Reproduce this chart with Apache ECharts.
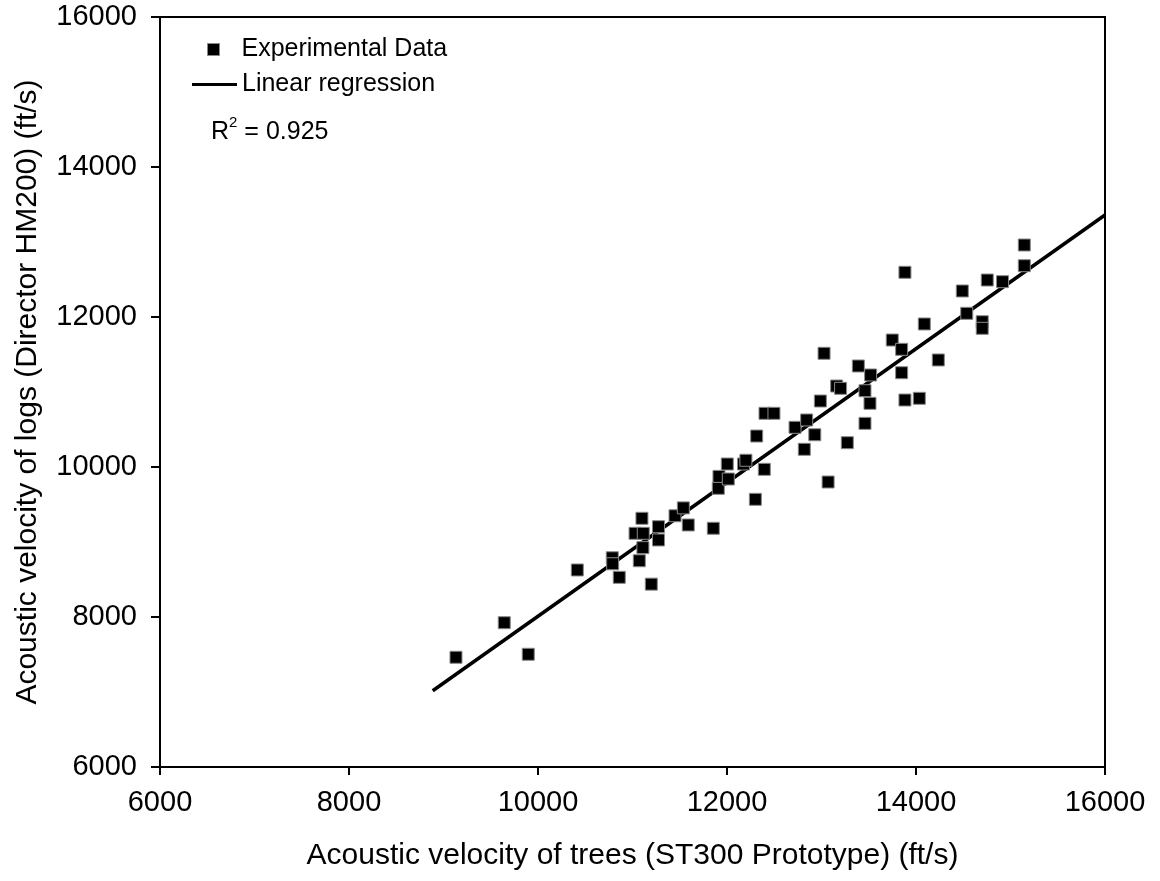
<!DOCTYPE html>
<html>
<head>
<meta charset="utf-8">
<script src="https://cdn.jsdelivr.net/npm/echarts@6/dist/echarts.min.js"></script>
<style>
  html, body { margin: 0; padding: 0; background: #fff; }
  #myChart { width: 1160px; height: 881px; }
</style>
</head>
<body>
<div id="myChart"></div>
<script>
// acoustic velocity of trees (x) vs logs (y), ft/s
const treeVel = [
  9132, 9643, 9897, 10416, 10786, 10790, 10860, 11072, 11110, 11199,
  11275, 11275, 11100, 11027, 11114, 11450, 11538, 11590, 11855, 11908,
  11915, 12003, 12014, 12175, 12200, 12395, 12300, 12314, 12402, 12497,
  12720, 12843, 12818, 12929, 12988, 13027, 13070, 13160, 13202, 13273,
  13390, 13460, 13513, 13460, 13520, 13749, 13848, 13848, 13883, 14035,
  14088, 14236, 13883, 14490, 14537, 14701, 14701, 14754, 14916, 15146,
  15146
]
const logVel = [
  7463, 7924, 7503, 8627, 8790, 8710, 8529, 8750, 8925, 8438,
  9027, 9204, 9316, 9116, 9116, 9350, 9455, 9227, 9183, 9716,
  9875, 10040, 9840, 10040, 10090, 9969, 9569, 10413, 10716, 10716,
  10529, 10627, 10236, 10430, 10880, 11516, 9800, 11080, 11049, 10324,
  11347, 11017, 10849, 10582, 11227, 11693, 11569, 11257, 10893, 10916,
  11907, 11427, 12596, 12347, 12049, 11937, 11849, 12493, 12471, 12960,
  12684
]
// fitted line end points
const regX = [8886, 16000]
const regY = [7017, 13360]
const xTicks = [6000, 8000, 10000, 12000, 14000, 16000]
const yTicks = [6000, 8000, 10000, 12000, 14000, 16000]

const font = 'Liberation Sans, Arial, sans-serif'
let myChart = echarts.init(document.getElementById('myChart'))

let pts = treeVel.map((x, i) => [x, logVel[i]])
let line = regX.map((x, i) => [x, regY[i]])

myChart.setOption({
  animation: false,
  backgroundColor: '#fff',
  textStyle: { fontFamily: font, color: '#000' },
  grid: {
    left: 160, right: 55, top: 17, bottom: 114,
    show: true, borderColor: '#000', borderWidth: 2
  },
  title: {
    left: 211, top: 115, padding: 0,
    text: '{a|R}{b|2}{a| = 0.925}',
    textStyle: {
      fontWeight: 'normal',
      rich: {
        a: { fontSize: 25, fontFamily: font, color: '#000', lineHeight: 34 },
        b: { fontSize: 15, fontFamily: font, color: '#000', verticalAlign: 'top', lineHeight: 10 }
      }
    }
  },
  legend: [
    {
      left: 207, top: 37, padding: 0, orient: 'vertical',
      itemWidth: 12, itemHeight: 12,
      data: [{ name: 'Experimental Data', icon: 'rect', itemStyle: { borderColor: '#888', borderWidth: 1 } }],
      textStyle: { fontSize: 25, fontFamily: font, color: '#000', padding: [0, 0, 0, 17] }
    },
    {
      left: 192, top: 72, padding: 0, orient: 'vertical',
      itemWidth: 45, itemHeight: 3,
      data: [{ name: 'Linear regression', icon: 'rect' }],
      textStyle: { fontSize: 25, fontFamily: font, color: '#000' }
    }
  ],
  xAxis: {
    type: 'value',
    min: xTicks[0], max: xTicks[xTicks.length - 1], interval: 2000,
    name: 'Acoustic velocity of trees (ST300 Prototype) (ft/s)',
    nameLocation: 'middle', nameGap: 89,
    nameTextStyle: { fontSize: 30, fontFamily: font, color: '#000', verticalAlign: 'middle' },
    axisLine: { onZero: false, lineStyle: { color: '#000', width: 2 } },
    axisTick: { show: true, inside: false, length: 8, lineStyle: { color: '#000', width: 2 } },
    axisLabel: {
      fontSize: 29, fontFamily: font, color: '#000', margin: 21,
      showMaxLabel: true, formatter: v => String(v)
    },
    splitLine: { show: false }
  },
  yAxis: {
    type: 'value',
    min: yTicks[0], max: yTicks[yTicks.length - 1], interval: 2000,
    name: 'Acoustic velocity of logs (Director HM200) (ft/s)',
    nameLocation: 'middle', nameGap: 132, nameRotate: 90,
    nameTextStyle: { fontSize: 30, fontFamily: font, color: '#000', verticalAlign: 'middle' },
    axisLine: { onZero: false, lineStyle: { color: '#000', width: 2 } },
    axisTick: { show: true, inside: false, length: 9, lineStyle: { color: '#000', width: 2 } },
    axisLabel: {
      fontSize: 29, fontFamily: font, color: '#000', margin: 23,
      showMaxLabel: true, formatter: v => String(v)
    },
    splitLine: { show: false }
  },
  series: [
    {
      name: 'Experimental Data',
      type: 'scatter',
      symbol: 'rect',
      symbolSize: 12,
      z: 3,
      itemStyle: { color: '#000', borderColor: '#888', borderWidth: 1, opacity: 1 },
      data: pts
    },
    {
      name: 'Linear regression',
      type: 'line',
      showSymbol: false,
      z: 2,
      lineStyle: { color: '#000', width: 3.5 },
      itemStyle: { color: '#000' },
      data: line
    }
  ]
})
</script>
</body>
</html>
